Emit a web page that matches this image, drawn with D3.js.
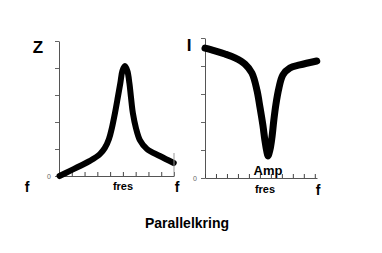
<!DOCTYPE html>
<html><head><meta charset="utf-8">
<script src="https://cdn.jsdelivr.net/npm/d3@7"></script>
<style>
html,body{margin:0;padding:0;background:#fff;}
svg{display:block;font-family:"Liberation Sans",Arial,sans-serif;}
</style></head>
<body>
<svg id="c" width="382" height="253"></svg>
<script>
// Left panel: impedance Z vs frequency (parallel circuit)
const zFreq = [0.04,0.86,1.64,2.42,3.2,3.59,3.91,4.14,4.38,4.61,4.8,4.96,5.16,5.35,5.51,5.63,5.78,6.02,6.33,6.88,7.89,8.98];
const zVals = [0,0.19,0.37,0.56,0.81,1.04,1.37,1.78,2.33,2.93,3.44,3.89,4.07,3.89,3.44,2.93,2.33,1.78,1.33,1.0,0.74,0.48];
// Right panel: current I vs frequency
const iFreq = [0,0.91,1.82,2.73,3.64,4.27,4.73,5.0,5.27,5.45,5.64,5.73,5.91,6.09,6.27,6.45,6.73,7.09,7.73,8.64,10.18];
const iVals = [4.64,4.54,4.43,4.29,4.07,3.75,3.14,2.54,1.89,1.36,0.93,0.79,1.0,1.43,2.07,2.61,3.21,3.68,3.93,4.04,4.18];
const yTicks = [0,1,2,3,4,5];
const zXTicks = [0,1,2,3,4,5,6,7,8,9];
const iXTicks = [0,1,2,3,4,5,6,7,8,9,10];
const title = "Parallelkring";

const svg = d3.select("#c");

function panel(cfg){
  const x = d3.scaleLinear().domain(cfg.xDom).range(cfg.xRange);
  const y = d3.scaleLinear().domain([0,5]).range(cfg.yRange);
  const g = svg.append("g");
  const ya = g.append("g").attr("transform",`translate(${cfg.xRange[0]},0)`)
    .call(d3.axisLeft(y).tickValues(yTicks).tickSize(4).tickSizeOuter(0).tickFormat(d=>d===0?"0":""));
  ya.select(".domain").attr("stroke","#555");
  ya.selectAll(".tick line").attr("stroke","#666");
  ya.selectAll(".tick text").attr("fill","#666").attr("font-size",7).attr("dx",-1);
  const xa = g.append("g").attr("transform",`translate(0,${cfg.yRange[0]})`)
    .call(d3.axisBottom(x).tickValues(cfg.xTicks).tickSize(-4).tickSizeOuter(0).tickFormat(""));
  xa.select(".domain").attr("stroke","#555");
  xa.selectAll(".tick line").attr("stroke","#444");
  const line = d3.line().x((d,i)=>x(cfg.xs[i])).y(d=>y(d)).curve(d3.curveCatmullRom.alpha(0.5));
  g.append("path").datum(cfg.ys).attr("d",line)
    .attr("fill","none").attr("stroke","#000").attr("stroke-width",cfg.sw)
    .attr("stroke-linecap","round").attr("stroke-linejoin","round");
  return {x,y,g};
}

const L = panel({xDom:[0,9],xRange:[59,174],yRange:[176,41],xTicks:zXTicks,xs:zFreq,ys:zVals,sw:6});
const R = panel({xDom:[0,10.2],xRange:[205,317],yRange:[178,38],xTicks:iXTicks,xs:iFreq,ys:iVals,sw:7});

// right-end marker line on left axis
svg.append("line").attr("x1",174).attr("x2",174).attr("y1",153).attr("y2",176).attr("stroke","#999").attr("stroke-width",1);

function txt(x,y,s,size){
  svg.append("text").attr("x",x).attr("y",y).attr("text-anchor","middle")
    .attr("dominant-baseline","central").attr("font-weight","bold")
    .attr("font-size",size).attr("fill","#000").text(s);
}
txt(38,47,"Z",17);
txt(189,45,"I",17);
txt(27,187,"f",14);
txt(177,187,"f",14);
txt(123,186,"fres",11);
txt(318,190,"f",14);
txt(265,189,"fres",11);
txt(268,170,"Amp",13);
txt(187,223,title,14);
</script>
</body></html>
